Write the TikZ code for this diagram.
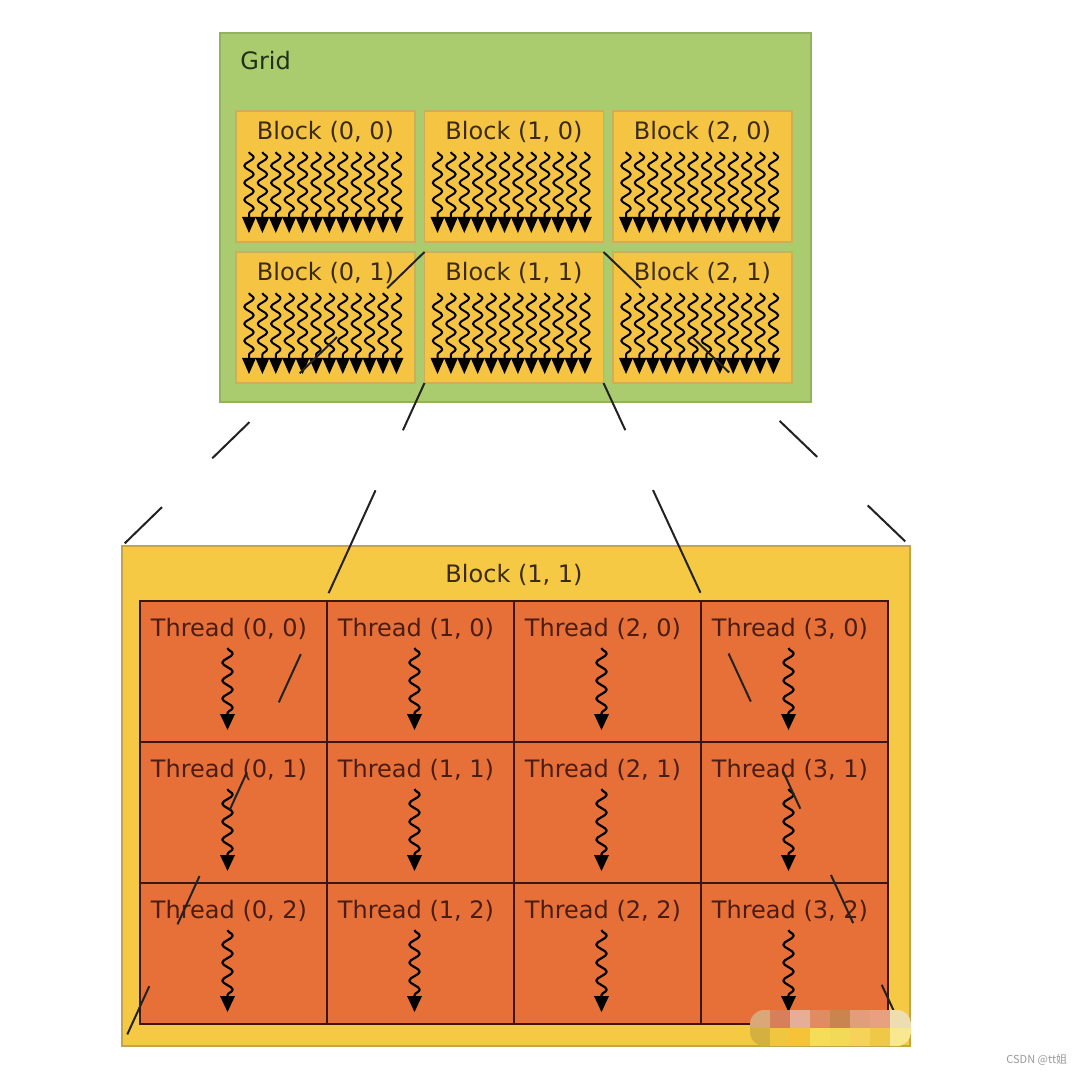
\documentclass[tikz,border=0pt]{standalone}
\usepackage{fontspec}
\setmainfont{DejaVu Sans}
\newfontfamily\cjkfont{Noto Sans CJK SC}
\usetikzlibrary{calc,decorations.pathmorphing}
\definecolor{gridgreen}{HTML}{AACC6E}
\definecolor{gridedge}{HTML}{93B25F}
\definecolor{blockyellow}{HTML}{F5C443}
\definecolor{blockedge}{HTML}{CFAE58}
\definecolor{bigyellow}{HTML}{F6C944}
\definecolor{bigedge}{HTML}{C2A548}
\definecolor{threadorange}{HTML}{E67038}
\definecolor{threadedge}{HTML}{3B1612}
\definecolor{threadtext}{HTML}{4B1D12}
\definecolor{blocktext}{HTML}{3A2A12}
\definecolor{gridtext}{HTML}{1F3014}
\definecolor{zoomline}{HTML}{222222}
\definecolor{wm}{HTML}{9A9A9A}
\definecolor{ma}{HTML}{D8A878}\definecolor{mb}{HTML}{D67F5A}\definecolor{mc}{HTML}{E5AE98}\definecolor{md}{HTML}{E08C62}
\definecolor{me}{HTML}{C98550}\definecolor{mf}{HTML}{E19E7A}\definecolor{mg}{HTML}{E7A080}\definecolor{mh}{HTML}{EEDDB0}
\definecolor{na}{HTML}{D4B040}\definecolor{nb}{HTML}{F0C540}\definecolor{nc}{HTML}{F5C238}\definecolor{nd}{HTML}{F5DD5A}
\definecolor{ne}{HTML}{F2DA58}\definecolor{nf}{HTML}{F6D25A}\definecolor{ng}{HTML}{F0C848}\definecolor{nh}{HTML}{F8E890}
\def\pxu{0.5pt}
\begin{document}
\begin{tikzpicture}[x=0.5pt,y=-0.5pt,
  box/.style={rectangle, inner sep=0pt, outer sep=0pt, anchor=north west},
  gridbox/.style={box, fill=gridgreen, draw=gridedge, line width=1pt, minimum width=591*\pxu, minimum height=369*\pxu},
  blockbox/.style={box, fill=blockyellow, draw=blockedge, line width=0.8pt, minimum width=179*\pxu, minimum height=131*\pxu},
  bigbox/.style={box, fill=bigyellow, draw=bigedge, line width=0.8pt, minimum width=788*\pxu, minimum height=500*\pxu},
  threadbox/.style={box, fill=threadorange, draw=threadedge, line width=1.25pt, minimum width=187*\pxu, minimum height=141*\pxu},
  lbl/.style={inner sep=0pt, font=\fontsize{12}{14}\selectfont},
  bwave/.style={line width=1pt, line join=round, decorate, decoration={snake, amplitude=2.4pt, segment length=8.5pt}},
  twave/.style={line width=1.1pt, line join=round, decorate, decoration={snake, amplitude=2.6pt, segment length=9pt}},
  zoomln/.style={draw=zoomline, line width=1pt}
]
\useasboundingbox (0,0) rectangle (1080,1074);
\fill[white] (0,0) rectangle (1080,1074);

% Grid
\node[gridbox] (grid) at (220,33) {};
\node[lbl, anchor=west, text=gridtext] (gridlabel) at (240,61) {Grid};

\foreach \c in {0,1,2} {
  \foreach \r in {0,1} {
    \node[blockbox] (b\c\r) at (236+\c*188.5, 111+\r*141) {};
    \node[lbl, text=blocktext] (bl\c\r) at ($(b\c\r.north west)+(89.5,21)$) {Block (\c, \r)};
    \foreach \i in {0,...,11} {
      \draw[bwave] ($(b\c\r.north west)+(13+\i*13.4,41)$) -- ++(0,67);
      \fill ($(b\c\r.north west)+(13+\i*13.4-7,106)$) -- ++(14,0) -- ++(-7,16) -- cycle;
    }
  }
}

% Block (1,1) enlarged
\node[bigbox] (big) at (122,546) {};
\node[lbl, text=blocktext] (biglabel) at ($(big.north)+(-2,29)$) {Block (1, 1)};

\foreach \c in {0,...,3} {
  \foreach \r in {0,1,2} {
    \node[threadbox] (t\c\r) at (140+\c*187, 601+\r*141) {};
  }
}
\foreach \c in {0,...,3} {
  \foreach \r in {0,1,2} {
    \node[lbl, text=threadtext] (tl\c\r) at ($(t\c\r.north west)+(89,28)$) {Thread (\c, \r)};
    \draw[twave] ($(t\c\r.north west)+(87.5,47)$) -- ++(0,67);
    \fill ($(t\c\r.north west)+(87.5-7.5,113)$) -- ++(15,0) -- ++(-7.5,16) -- cycle;
  }
}

% zoom lines
\draw[zoomln, dash pattern=on 26pt off 35pt] (b11.north west) -- (big.north west);
\draw[zoomln, dash pattern=on 26pt off 35pt] (b11.north east) -- (big.north east);
\draw[zoomln, dash pattern=on 26pt off 33pt on 56.5pt off 33.5pt on 26.5pt off 38.5pt on 20.5pt off 36.5pt on 26.5pt off 34pt on 26.5pt off 15pt] (b11.south west) -- (big.south west);
\draw[zoomln, dash pattern=on 26pt off 33pt on 56.5pt off 33.5pt on 26.5pt off 38.5pt on 20.5pt off 36.5pt on 26.5pt off 34pt on 26.5pt off 15pt] (b11.south east) -- (big.south east);

% mosaic
\begin{scope}
\clip[rounded corners=7pt] (750,1010) rectangle (911,1046);
\fill[ma] (750,1010) rectangle (770,1028);
\fill[mb] (770,1010) rectangle (790,1028);
\fill[mc] (790,1010) rectangle (810,1028);
\fill[md] (810,1010) rectangle (830,1028);
\fill[me] (830,1010) rectangle (850,1028);
\fill[mf] (850,1010) rectangle (870,1028);
\fill[mg] (870,1010) rectangle (890,1028);
\fill[mh] (890,1010) rectangle (911,1028);
\fill[na] (750,1028) rectangle (770,1046);
\fill[nb] (770,1028) rectangle (790,1046);
\fill[nc] (790,1028) rectangle (810,1046);
\fill[nd] (810,1028) rectangle (830,1046);
\fill[ne] (830,1028) rectangle (850,1046);
\fill[nf] (850,1028) rectangle (870,1046);
\fill[ng] (870,1028) rectangle (890,1046);
\fill[nh] (890,1028) rectangle (911,1046);
\end{scope}

\node[inner sep=0pt, anchor=west, text=wm, font=\cjkfont\fontsize{5.5}{6}\selectfont] (wmark) at (1006,1060) {CSDN @tt姐};
\end{tikzpicture}
\end{document}
